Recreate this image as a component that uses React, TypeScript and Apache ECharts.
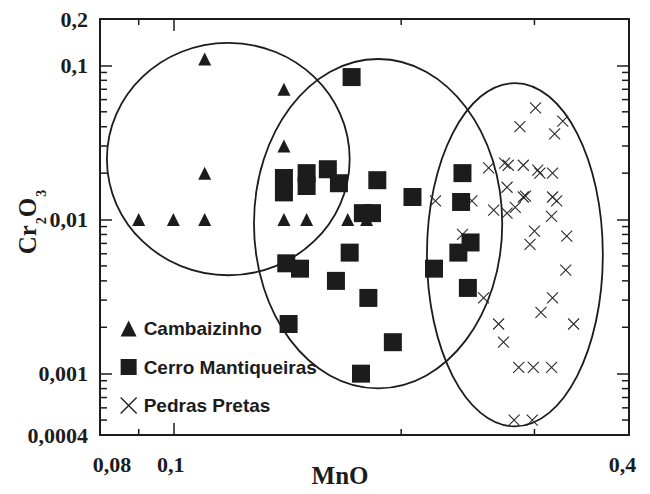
import React, { useEffect, useRef } from 'react';
import * as echarts from 'echarts';

// Axis ranges (log scales)
const X_MIN = 0.08;
const X_MAX = 0.4;
const Y_MIN = 0.0004;
const Y_MAX = 0.2;

// Tick labels
const xTickLabels = [0.08, 0.1, 0.4];
const yTickLabels = [0.0004, 0.001, 0.01, 0.1, 0.2];

// Minor tick values
const xMinorTicks = [0.09, 0.2, 0.3];
const yMinorTicks = [
  0.0005, 0.0006, 0.0007, 0.0008, 0.0009,
  0.002, 0.003, 0.004, 0.005, 0.006, 0.007, 0.008, 0.009,
  0.02, 0.03, 0.04, 0.05, 0.06, 0.07, 0.08, 0.09,
];

// Series: [MnO, Cr2O3]
const cambaizinho = [
  [0.09, 0.01], [0.1, 0.01], [0.11, 0.01], [0.11, 0.02], [0.11, 0.11],
  [0.14, 0.07], [0.14, 0.03], [0.14, 0.01], [0.15, 0.01], [0.17, 0.01], [0.18, 0.01],
];

const cerroMantiqueiras = [
  [0.172, 0.084], [0.14, 0.0186], [0.14, 0.015], [0.15, 0.02], [0.15, 0.0165],
  [0.16, 0.0212], [0.1655, 0.0172], [0.186, 0.018], [0.207, 0.014], [0.178, 0.011],
  [0.183, 0.011], [0.171, 0.0061], [0.141, 0.0052], [0.147, 0.0048], [0.164, 0.004],
  [0.181, 0.0031], [0.142, 0.0021], [0.195, 0.0016], [0.177, 0.001], [0.241, 0.02],
  [0.24, 0.013], [0.247, 0.0071], [0.238, 0.0061], [0.221, 0.0048], [0.245, 0.0036],
];

const pedrasPretas = [
  [0.301, 0.053], [0.287, 0.04], [0.327, 0.0435], [0.319, 0.036], [0.261, 0.0216],
  [0.274, 0.0232], [0.277, 0.0225], [0.29, 0.0225], [0.303, 0.0209], [0.305, 0.02],
  [0.317, 0.02], [0.222, 0.0132], [0.248, 0.0132], [0.276, 0.0162], [0.29, 0.014],
  [0.292, 0.0142], [0.283, 0.012], [0.276, 0.011], [0.265, 0.0115], [0.317, 0.014],
  [0.321, 0.0132], [0.316, 0.0105], [0.3, 0.0084], [0.331, 0.0078], [0.296, 0.0069],
  [0.241, 0.008], [0.33, 0.0047], [0.317, 0.0031], [0.306, 0.0025], [0.338, 0.0021],
  [0.269, 0.0021], [0.273, 0.0016], [0.286, 0.0011], [0.299, 0.0011], [0.316, 0.0011],
  [0.282, 0.0005], [0.298, 0.0005], [0.257, 0.0031],
];

// Group envelopes: [MnO min, MnO max, Cr2O3 min, Cr2O3 max]
const envelopes = [
  [0.0817, 0.171, 0.00435, 0.14],
  [0.1278, 0.272, 0.000803, 0.11],
  [0.2163, 0.3694, 0.000455, 0.0768],
];

const seriesNames = ['Cambaizinho', 'Cerro Mantiqueiras', 'Pedras Pretas'];

const INK = '#1c1c1c';
const SERIF = '"Liberation Serif", "Times New Roman", serif';
const SANS = '"Liberation Sans", Arial, sans-serif';

const fmt = (v: number) => String(v).replace('.', ',');
const matchTick = (list: number[], v: number) =>
  list.find((t) => Math.abs(Math.log10(t) - Math.log10(v)) < 1e-6);

export default function App() {
  const ref = useRef<HTMLDivElement>(null);

  useEffect(() => {
    if (!ref.current) return;
    const chart = echarts.init(ref.current, undefined, { renderer: 'svg' });

    const tickData = [
      ...yMinorTicks.map((v) => [X_MIN, v, 0]),
      ...xMinorTicks.map((v) => [v, Y_MIN, 1]),
    ];

    const axisCommon = {
      type: 'log' as const,
      logBase: 10,
      axisLine: { show: true, lineStyle: { color: INK, width: 2 } },
      axisTick: { show: true, inside: true, length: 12, lineStyle: { color: INK, width: 1.5 } },
      splitLine: { show: false },
      minorTick: { show: false },
      minorSplitLine: { show: false },
    };

    const labelFont = { fontFamily: SERIF, fontWeight: 'bold' as const, fontSize: 22, color: INK };

    chart.setOption({
      animation: false,
      backgroundColor: '#ffffff',
      grid: { left: 100, right: 21, top: 19, bottom: 59, containLabel: false, outerBoundsMode: 'none' },
      xAxis: [
        {
          ...axisCommon,
          position: 'bottom',
          min: X_MIN,
          max: X_MAX,
          name: 'MnO',
          nameLocation: 'middle',
          nameGap: 28,
          nameMoveOverlap: false,
          nameTextStyle: {
            fontFamily: SERIF, fontWeight: 'bold', fontSize: 25, color: INK,
            padding: [0, 49, 0, 0],
          },
          axisLabel: {
            show: true,
            margin: 18,
            showMinLabel: true,
            showMaxLabel: true,
            hideOverlap: false,
            ...labelFont,
            formatter: (v: number) => {
              const t = matchTick(xTickLabels, v);
              if (t === undefined) return '';
              if (t === X_MIN) return `{lo|${fmt(t)}}`;
              if (t === X_MAX) return `{hi|${fmt(t)}}`;
              return `{n|${fmt(t)}}`;
            },
            rich: {
              lo: { ...labelFont, padding: [0, 0, 0, 24] },
              hi: { ...labelFont, padding: [0, 13, 0, 0] },
              n: { ...labelFont, padding: [0, 5, 0, 0] },
            },
          },
        },
        {
          ...axisCommon,
          position: 'top',
          min: X_MIN,
          max: X_MAX,
          axisLabel: { show: false },
        },
      ],
      yAxis: [
        {
          ...axisCommon,
          position: 'left',
          min: Y_MIN,
          max: Y_MAX,
          name: '{m|Cr}{s|2}{m|O}{s|3}',
          nameLocation: 'middle',
          nameGap: 59,
          nameMoveOverlap: false,
          nameRotate: 90,
          nameTextStyle: {
            padding: [0, 0, 0, 10],
            rich: {
              m: { fontFamily: SERIF, fontWeight: 'bold', fontSize: 25, color: INK, lineHeight: 26, verticalAlign: 'top' },
              s: { fontFamily: SERIF, fontWeight: 'bold', fontSize: 14, color: INK, lineHeight: 14, verticalAlign: 'top', padding: [19, 0, 0, 1] },
            },
          },
          axisLabel: {
            show: true,
            margin: 12,
            showMinLabel: true,
            showMaxLabel: true,
            hideOverlap: false,
            ...labelFont,
            formatter: (v: number) => {
              const t = matchTick(yTickLabels, v);
              return t === undefined ? '' : fmt(t);
            },
          },
        },
        {
          ...axisCommon,
          position: 'right',
          min: Y_MIN,
          max: Y_MAX,
          axisLabel: { show: false },
        },
      ],
      legend: {
        show: true,
        orient: 'vertical',
        left: 115,
        top: 314,
        itemWidth: 16,
        itemHeight: 16,
        itemGap: 19.5,
        selectedMode: false,
        textStyle: { fontFamily: SANS, fontWeight: 'bold', fontSize: 19, color: INK, padding: [0, 0, 0, 2] },
        data: [
          { name: seriesNames[0] },
          { name: seriesNames[1] },
          { name: seriesNames[2], itemStyle: { borderWidth: 1.3, borderColor: INK, color: 'rgba(0,0,0,0)' } },
        ],
      },
      series: [
        {
          name: 'envelopes',
          type: 'custom',
          silent: true,
          z: 1,
          clip: false,
          encode: { x: [0, 1], y: [2, 3] },
          data: envelopes,
          renderItem: (params: any, api: any) => {
            const a = api.coord([api.value(0), api.value(3)]);
            const b = api.coord([api.value(1), api.value(2)]);
            return {
              type: 'ellipse',
              shape: {
                cx: (a[0] + b[0]) / 2,
                cy: (a[1] + b[1]) / 2,
                rx: Math.abs(b[0] - a[0]) / 2,
                ry: Math.abs(b[1] - a[1]) / 2,
              },
              style: { fill: 'none', stroke: INK, lineWidth: 1.8 },
            };
          },
        },
        {
          name: 'minorTicks',
          type: 'custom',
          silent: true,
          z: 1,
          clip: false,
          encode: { x: 0, y: 1 },
          data: tickData,
          renderItem: (params: any, api: any) => {
            const cs = params.coordSys;
            const p = api.coord([api.value(0), api.value(1)]);
            const style = { stroke: INK, lineWidth: 1.5 };
            if (api.value(2) === 0) {
              return {
                type: 'group',
                children: [
                  { type: 'line', shape: { x1: cs.x, y1: p[1], x2: cs.x + 7, y2: p[1] }, style },
                  { type: 'line', shape: { x1: cs.x + cs.width - 7, y1: p[1], x2: cs.x + cs.width, y2: p[1] }, style },
                ],
              };
            }
            return {
              type: 'group',
              children: [
                { type: 'line', shape: { x1: p[0], y1: cs.y + cs.height, x2: p[0], y2: cs.y + cs.height - 6 }, style },
                { type: 'line', shape: { x1: p[0], y1: cs.y, x2: p[0], y2: cs.y + 6 }, style },
              ],
            };
          },
        },
        {
          name: seriesNames[0],
          type: 'scatter',
          symbol: 'triangle',
          symbolSize: 13,
          z: 3,
          itemStyle: { color: INK, opacity: 1 },
          data: cambaizinho,
        },
        {
          name: seriesNames[2],
          type: 'scatter',
          symbol: 'path://M0,0L10,10M10,0L0,10',
          symbolSize: 11,
          z: 4,
          itemStyle: { color: 'rgba(0,0,0,0)', borderColor: '#2a2a2a', borderWidth: 1.1, opacity: 1 },
          data: pedrasPretas,
        },
        {
          name: seriesNames[1],
          type: 'scatter',
          symbol: 'rect',
          symbolSize: 18,
          z: 5,
          itemStyle: { color: INK, opacity: 1 },
          data: cerroMantiqueiras,
        },
      ],
    });

    return () => chart.dispose();
  }, []);

  return (
    <div
      ref={ref}
      style={{ position: 'fixed', left: 0, top: 0, width: 650, height: 494, background: '#fff' }}
    />
  );
}
